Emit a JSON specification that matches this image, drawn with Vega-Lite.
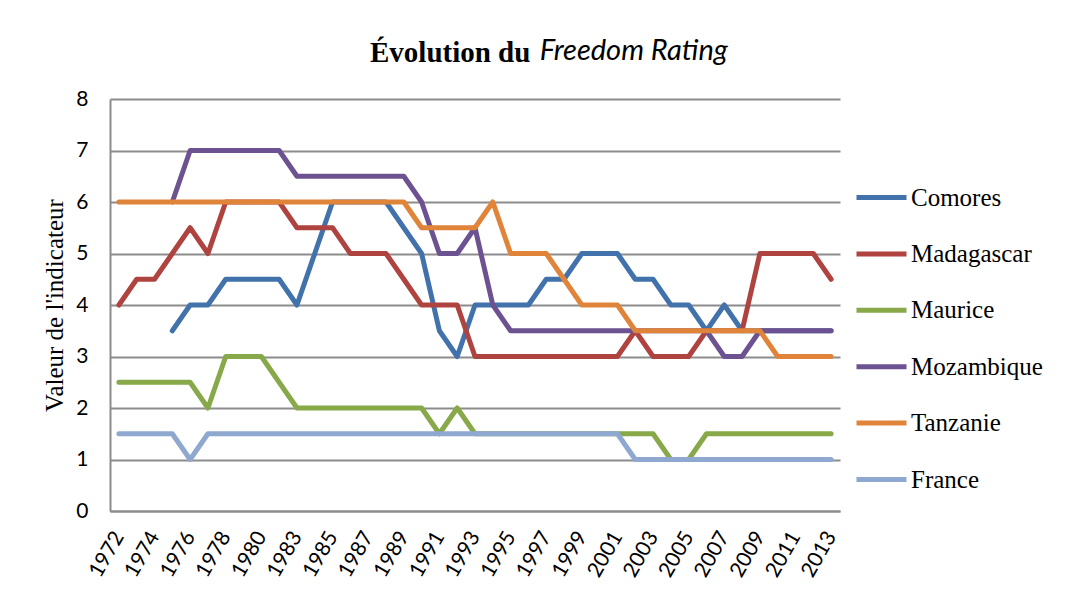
{
  "$schema": "https://vega.github.io/schema/vega-lite/v6.json",
  "width": 730,
  "height": 412,
  "autosize": "none",
  "padding": {"left": 110, "top": 99, "right": 241, "bottom": 84},
  "background": "white",
  "title": {
    "text": "Évolution du",
    "subtitle": "\u200b\u00a0\u00a0\u00a0\u00a0\u00a0\u00a0\u00a0\u00a0\u00a0\u00a0\u00a0\u00a0\u00a0\u00a0\u00a0\u00a0\u00a0\u00a0\u00a0\u00a0\u00a0\u00a0\u00a0\u00a0\u00a0Freedom Rating",
    "anchor": "start",
    "frame": "group",
    "dx": 260,
    "font": "Liberation Serif",
    "fontWeight": "bold",
    "fontSize": 29,
    "color": "black",
    "subtitleFont": "Lato",
    "subtitleFontStyle": "italic",
    "subtitleFontWeight": "normal",
    "subtitleFontSize": 29,
    "subtitleColor": "black",
    "subtitlePadding": -31,
    "offset": 18
  },
  "data": {
    "values": [
      {"pays":"Comores","annee":1975,"valeur":3.5},{"pays":"Comores","annee":1976,"valeur":4},{"pays":"Comores","annee":1977,"valeur":4},{"pays":"Comores","annee":1978,"valeur":4.5},{"pays":"Comores","annee":1979,"valeur":4.5},{"pays":"Comores","annee":1980,"valeur":4.5},{"pays":"Comores","annee":1981,"valeur":4.5},{"pays":"Comores","annee":1983,"valeur":4},{"pays":"Comores","annee":1984,"valeur":5},{"pays":"Comores","annee":1985,"valeur":6},{"pays":"Comores","annee":1986,"valeur":6},{"pays":"Comores","annee":1987,"valeur":6},{"pays":"Comores","annee":1988,"valeur":6},{"pays":"Comores","annee":1989,"valeur":5.5},{"pays":"Comores","annee":1990,"valeur":5},{"pays":"Comores","annee":1991,"valeur":3.5},{"pays":"Comores","annee":1992,"valeur":3},{"pays":"Comores","annee":1993,"valeur":4},{"pays":"Comores","annee":1994,"valeur":4},{"pays":"Comores","annee":1995,"valeur":4},{"pays":"Comores","annee":1996,"valeur":4},{"pays":"Comores","annee":1997,"valeur":4.5},{"pays":"Comores","annee":1998,"valeur":4.5},{"pays":"Comores","annee":1999,"valeur":5},{"pays":"Comores","annee":2000,"valeur":5},{"pays":"Comores","annee":2001,"valeur":5},{"pays":"Comores","annee":2002,"valeur":4.5},{"pays":"Comores","annee":2003,"valeur":4.5},{"pays":"Comores","annee":2004,"valeur":4},{"pays":"Comores","annee":2005,"valeur":4},{"pays":"Comores","annee":2006,"valeur":3.5},{"pays":"Comores","annee":2007,"valeur":4},{"pays":"Comores","annee":2008,"valeur":3.5},{"pays":"Comores","annee":2009,"valeur":3.5},{"pays":"Comores","annee":2010,"valeur":3.5},{"pays":"Comores","annee":2011,"valeur":3.5},{"pays":"Comores","annee":2012,"valeur":3.5},{"pays":"Comores","annee":2013,"valeur":3.5},
      {"pays":"Madagascar","annee":1972,"valeur":4},{"pays":"Madagascar","annee":1973,"valeur":4.5},{"pays":"Madagascar","annee":1974,"valeur":4.5},{"pays":"Madagascar","annee":1975,"valeur":5},{"pays":"Madagascar","annee":1976,"valeur":5.5},{"pays":"Madagascar","annee":1977,"valeur":5},{"pays":"Madagascar","annee":1978,"valeur":6},{"pays":"Madagascar","annee":1979,"valeur":6},{"pays":"Madagascar","annee":1980,"valeur":6},{"pays":"Madagascar","annee":1981,"valeur":6},{"pays":"Madagascar","annee":1983,"valeur":5.5},{"pays":"Madagascar","annee":1984,"valeur":5.5},{"pays":"Madagascar","annee":1985,"valeur":5.5},{"pays":"Madagascar","annee":1986,"valeur":5},{"pays":"Madagascar","annee":1987,"valeur":5},{"pays":"Madagascar","annee":1988,"valeur":5},{"pays":"Madagascar","annee":1989,"valeur":4.5},{"pays":"Madagascar","annee":1990,"valeur":4},{"pays":"Madagascar","annee":1991,"valeur":4},{"pays":"Madagascar","annee":1992,"valeur":4},{"pays":"Madagascar","annee":1993,"valeur":3},{"pays":"Madagascar","annee":1994,"valeur":3},{"pays":"Madagascar","annee":1995,"valeur":3},{"pays":"Madagascar","annee":1996,"valeur":3},{"pays":"Madagascar","annee":1997,"valeur":3},{"pays":"Madagascar","annee":1998,"valeur":3},{"pays":"Madagascar","annee":1999,"valeur":3},{"pays":"Madagascar","annee":2000,"valeur":3},{"pays":"Madagascar","annee":2001,"valeur":3},{"pays":"Madagascar","annee":2002,"valeur":3.5},{"pays":"Madagascar","annee":2003,"valeur":3},{"pays":"Madagascar","annee":2004,"valeur":3},{"pays":"Madagascar","annee":2005,"valeur":3},{"pays":"Madagascar","annee":2006,"valeur":3.5},{"pays":"Madagascar","annee":2007,"valeur":3.5},{"pays":"Madagascar","annee":2008,"valeur":3.5},{"pays":"Madagascar","annee":2009,"valeur":5},{"pays":"Madagascar","annee":2010,"valeur":5},{"pays":"Madagascar","annee":2011,"valeur":5},{"pays":"Madagascar","annee":2012,"valeur":5},{"pays":"Madagascar","annee":2013,"valeur":4.5},
      {"pays":"Maurice","annee":1972,"valeur":2.5},{"pays":"Maurice","annee":1973,"valeur":2.5},{"pays":"Maurice","annee":1974,"valeur":2.5},{"pays":"Maurice","annee":1975,"valeur":2.5},{"pays":"Maurice","annee":1976,"valeur":2.5},{"pays":"Maurice","annee":1977,"valeur":2},{"pays":"Maurice","annee":1978,"valeur":3},{"pays":"Maurice","annee":1979,"valeur":3},{"pays":"Maurice","annee":1980,"valeur":3},{"pays":"Maurice","annee":1981,"valeur":2.5},{"pays":"Maurice","annee":1983,"valeur":2},{"pays":"Maurice","annee":1984,"valeur":2},{"pays":"Maurice","annee":1985,"valeur":2},{"pays":"Maurice","annee":1986,"valeur":2},{"pays":"Maurice","annee":1987,"valeur":2},{"pays":"Maurice","annee":1988,"valeur":2},{"pays":"Maurice","annee":1989,"valeur":2},{"pays":"Maurice","annee":1990,"valeur":2},{"pays":"Maurice","annee":1991,"valeur":1.5},{"pays":"Maurice","annee":1992,"valeur":2},{"pays":"Maurice","annee":1993,"valeur":1.5},{"pays":"Maurice","annee":1994,"valeur":1.5},{"pays":"Maurice","annee":1995,"valeur":1.5},{"pays":"Maurice","annee":1996,"valeur":1.5},{"pays":"Maurice","annee":1997,"valeur":1.5},{"pays":"Maurice","annee":1998,"valeur":1.5},{"pays":"Maurice","annee":1999,"valeur":1.5},{"pays":"Maurice","annee":2000,"valeur":1.5},{"pays":"Maurice","annee":2001,"valeur":1.5},{"pays":"Maurice","annee":2002,"valeur":1.5},{"pays":"Maurice","annee":2003,"valeur":1.5},{"pays":"Maurice","annee":2004,"valeur":1},{"pays":"Maurice","annee":2005,"valeur":1},{"pays":"Maurice","annee":2006,"valeur":1.5},{"pays":"Maurice","annee":2007,"valeur":1.5},{"pays":"Maurice","annee":2008,"valeur":1.5},{"pays":"Maurice","annee":2009,"valeur":1.5},{"pays":"Maurice","annee":2010,"valeur":1.5},{"pays":"Maurice","annee":2011,"valeur":1.5},{"pays":"Maurice","annee":2012,"valeur":1.5},{"pays":"Maurice","annee":2013,"valeur":1.5},
      {"pays":"Mozambique","annee":1975,"valeur":6},{"pays":"Mozambique","annee":1976,"valeur":7},{"pays":"Mozambique","annee":1977,"valeur":7},{"pays":"Mozambique","annee":1978,"valeur":7},{"pays":"Mozambique","annee":1979,"valeur":7},{"pays":"Mozambique","annee":1980,"valeur":7},{"pays":"Mozambique","annee":1981,"valeur":7},{"pays":"Mozambique","annee":1983,"valeur":6.5},{"pays":"Mozambique","annee":1984,"valeur":6.5},{"pays":"Mozambique","annee":1985,"valeur":6.5},{"pays":"Mozambique","annee":1986,"valeur":6.5},{"pays":"Mozambique","annee":1987,"valeur":6.5},{"pays":"Mozambique","annee":1988,"valeur":6.5},{"pays":"Mozambique","annee":1989,"valeur":6.5},{"pays":"Mozambique","annee":1990,"valeur":6},{"pays":"Mozambique","annee":1991,"valeur":5},{"pays":"Mozambique","annee":1992,"valeur":5},{"pays":"Mozambique","annee":1993,"valeur":5.5},{"pays":"Mozambique","annee":1994,"valeur":4},{"pays":"Mozambique","annee":1995,"valeur":3.5},{"pays":"Mozambique","annee":1996,"valeur":3.5},{"pays":"Mozambique","annee":1997,"valeur":3.5},{"pays":"Mozambique","annee":1998,"valeur":3.5},{"pays":"Mozambique","annee":1999,"valeur":3.5},{"pays":"Mozambique","annee":2000,"valeur":3.5},{"pays":"Mozambique","annee":2001,"valeur":3.5},{"pays":"Mozambique","annee":2002,"valeur":3.5},{"pays":"Mozambique","annee":2003,"valeur":3.5},{"pays":"Mozambique","annee":2004,"valeur":3.5},{"pays":"Mozambique","annee":2005,"valeur":3.5},{"pays":"Mozambique","annee":2006,"valeur":3.5},{"pays":"Mozambique","annee":2007,"valeur":3},{"pays":"Mozambique","annee":2008,"valeur":3},{"pays":"Mozambique","annee":2009,"valeur":3.5},{"pays":"Mozambique","annee":2010,"valeur":3.5},{"pays":"Mozambique","annee":2011,"valeur":3.5},{"pays":"Mozambique","annee":2012,"valeur":3.5},{"pays":"Mozambique","annee":2013,"valeur":3.5},
      {"pays":"Tanzanie","annee":1972,"valeur":6},{"pays":"Tanzanie","annee":1973,"valeur":6},{"pays":"Tanzanie","annee":1974,"valeur":6},{"pays":"Tanzanie","annee":1975,"valeur":6},{"pays":"Tanzanie","annee":1976,"valeur":6},{"pays":"Tanzanie","annee":1977,"valeur":6},{"pays":"Tanzanie","annee":1978,"valeur":6},{"pays":"Tanzanie","annee":1979,"valeur":6},{"pays":"Tanzanie","annee":1980,"valeur":6},{"pays":"Tanzanie","annee":1981,"valeur":6},{"pays":"Tanzanie","annee":1983,"valeur":6},{"pays":"Tanzanie","annee":1984,"valeur":6},{"pays":"Tanzanie","annee":1985,"valeur":6},{"pays":"Tanzanie","annee":1986,"valeur":6},{"pays":"Tanzanie","annee":1987,"valeur":6},{"pays":"Tanzanie","annee":1988,"valeur":6},{"pays":"Tanzanie","annee":1989,"valeur":6},{"pays":"Tanzanie","annee":1990,"valeur":5.5},{"pays":"Tanzanie","annee":1991,"valeur":5.5},{"pays":"Tanzanie","annee":1992,"valeur":5.5},{"pays":"Tanzanie","annee":1993,"valeur":5.5},{"pays":"Tanzanie","annee":1994,"valeur":6},{"pays":"Tanzanie","annee":1995,"valeur":5},{"pays":"Tanzanie","annee":1996,"valeur":5},{"pays":"Tanzanie","annee":1997,"valeur":5},{"pays":"Tanzanie","annee":1998,"valeur":4.5},{"pays":"Tanzanie","annee":1999,"valeur":4},{"pays":"Tanzanie","annee":2000,"valeur":4},{"pays":"Tanzanie","annee":2001,"valeur":4},{"pays":"Tanzanie","annee":2002,"valeur":3.5},{"pays":"Tanzanie","annee":2003,"valeur":3.5},{"pays":"Tanzanie","annee":2004,"valeur":3.5},{"pays":"Tanzanie","annee":2005,"valeur":3.5},{"pays":"Tanzanie","annee":2006,"valeur":3.5},{"pays":"Tanzanie","annee":2007,"valeur":3.5},{"pays":"Tanzanie","annee":2008,"valeur":3.5},{"pays":"Tanzanie","annee":2009,"valeur":3.5},{"pays":"Tanzanie","annee":2010,"valeur":3},{"pays":"Tanzanie","annee":2011,"valeur":3},{"pays":"Tanzanie","annee":2012,"valeur":3},{"pays":"Tanzanie","annee":2013,"valeur":3},
      {"pays":"France","annee":1972,"valeur":1.5},{"pays":"France","annee":1973,"valeur":1.5},{"pays":"France","annee":1974,"valeur":1.5},{"pays":"France","annee":1975,"valeur":1.5},{"pays":"France","annee":1976,"valeur":1},{"pays":"France","annee":1977,"valeur":1.5},{"pays":"France","annee":1978,"valeur":1.5},{"pays":"France","annee":1979,"valeur":1.5},{"pays":"France","annee":1980,"valeur":1.5},{"pays":"France","annee":1981,"valeur":1.5},{"pays":"France","annee":1983,"valeur":1.5},{"pays":"France","annee":1984,"valeur":1.5},{"pays":"France","annee":1985,"valeur":1.5},{"pays":"France","annee":1986,"valeur":1.5},{"pays":"France","annee":1987,"valeur":1.5},{"pays":"France","annee":1988,"valeur":1.5},{"pays":"France","annee":1989,"valeur":1.5},{"pays":"France","annee":1990,"valeur":1.5},{"pays":"France","annee":1991,"valeur":1.5},{"pays":"France","annee":1992,"valeur":1.5},{"pays":"France","annee":1993,"valeur":1.5},{"pays":"France","annee":1994,"valeur":1.5},{"pays":"France","annee":1995,"valeur":1.5},{"pays":"France","annee":1996,"valeur":1.5},{"pays":"France","annee":1997,"valeur":1.5},{"pays":"France","annee":1998,"valeur":1.5},{"pays":"France","annee":1999,"valeur":1.5},{"pays":"France","annee":2000,"valeur":1.5},{"pays":"France","annee":2001,"valeur":1.5},{"pays":"France","annee":2002,"valeur":1},{"pays":"France","annee":2003,"valeur":1},{"pays":"France","annee":2004,"valeur":1},{"pays":"France","annee":2005,"valeur":1},{"pays":"France","annee":2006,"valeur":1},{"pays":"France","annee":2007,"valeur":1},{"pays":"France","annee":2008,"valeur":1},{"pays":"France","annee":2009,"valeur":1},{"pays":"France","annee":2010,"valeur":1},{"pays":"France","annee":2011,"valeur":1},{"pays":"France","annee":2012,"valeur":1},{"pays":"France","annee":2013,"valeur":1}
    ]
  },
  "mark": {"type": "line", "strokeWidth": 5, "strokeCap": "round", "strokeJoin": "round"},
  "encoding": {
    "x": {
      "field": "annee",
      "type": "ordinal",
      "scale": {"type": "point", "padding": 0.5},
      "axis": {
        "title": null,
        "values": [1972,1974,1976,1978,1980,1983,1985,1987,1989,1991,1993,1995,1997,1999,2001,2003,2005,2007,2009,2011,2013],
        "labelAngle": -60,
        "labelAlign": "right",
        "labelBaseline": "middle",
        "labelFont": "Lato",
        "labelFontSize": 21,
        "labelColor": "black",
        "labelPadding": 22,
        "ticks": false,
        "domainColor": "#8c8c8c",
        "domainWidth": 2,
        "grid": false
      }
    },
    "y": {
      "field": "valeur",
      "type": "quantitative",
      "scale": {"domain": [0, 8], "nice": false},
      "axis": {
        "title": "Valeur de l'indicateur",
        "titleFont": "Liberation Serif",
        "titleFontSize": 25,
        "titleFontWeight": "normal",
        "titleColor": "black",
        "titlePadding": 8,
        "values": [0,1,2,3,4,5,6,7,8],
        "labelFont": "Lato",
        "labelFontSize": 21,
        "labelColor": "black",
        "labelPadding": 22,
        "ticks": false,
        "domainColor": "#8c8c8c",
        "domainWidth": 2,
        "grid": true,
        "gridColor": "#8c8c8c",
        "gridWidth": 2
      }
    },
    "color": {
      "field": "pays",
      "type": "nominal",
      "scale": {
        "domain": ["Comores","Madagascar","Maurice","Mozambique","Tanzanie","France"],
        "range": ["#4272AC","#AF433F","#87A94A","#6C5290","#E0843A","#8EA8D0"]
      },
      "legend": {
        "title": null,
        "orient": "none",
        "legendX": 744,
        "legendY": 71,
        "symbolType": "stroke",
        "symbolSize": 2500,
        "symbolStrokeWidth": 5,
        "labelFont": "Liberation Serif",
        "labelFontSize": 25,
        "labelColor": "black",
        "labelOffset": 2,
        "rowPadding": 15.4,
        "padding": 0
      }
    }
  },
  "config": {
    "view": {"stroke": null},
    "axis": {"labelOverlap": false}
  }
}
